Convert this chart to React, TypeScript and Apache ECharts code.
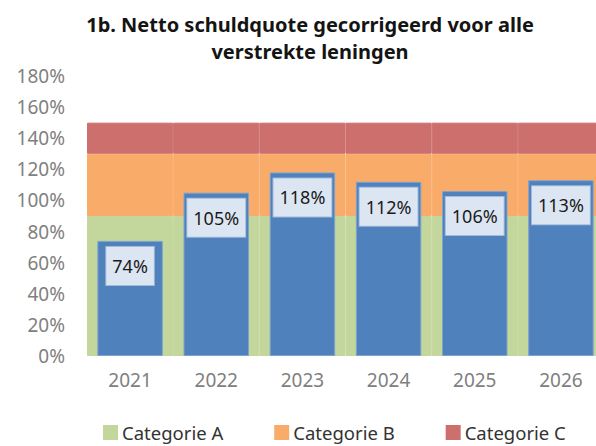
import React, { useEffect, useRef } from "react";
import * as echarts from "echarts";

const years = ["2021", "2022", "2023", "2024", "2025", "2026"];
const schuldquote = [74, 105, 118, 112, 106, 113];
const categorieA = [90, 90, 90, 90, 90, 90];
const categorieB = [40, 40, 40, 40, 40, 40];
const categorieC = [20, 20, 20, 20, 20, 20];
const titleText = "1b. Netto schuldquote gecorrigeerd voor alle\nverstrekte leningen";

export default function App() {
  const ref = useRef<HTMLDivElement>(null);
  useEffect(() => {
    if (!ref.current) return;
    const chart = echarts.init(ref.current, undefined, { renderer: "svg" });
    const font = "'Noto Sans', sans-serif";
    const bgBar = (color: string) => ({ color, borderColor: color, borderWidth: 1 });
    chart.setOption({
      animation: false,
      textStyle: { fontFamily: font },
      title: {
        text: titleText,
        left: 310,
        top: 11,
        padding: 0,
        textAlign: "center",
        textStyle: { fontSize: 20, fontWeight: "bold", color: "#141414", lineHeight: 27, fontFamily: font },
      },
      legend: {
        top: 423,
        left: 103,
        padding: 0,
        icon: "rect",
        itemWidth: 13,
        itemHeight: 13,
        itemGap: 51,
        data: ["Categorie A", "Categorie B", "Categorie C"],
        textStyle: { fontSize: 18.5, lineHeight: 18, color: "#333", fontFamily: font },
        selectedMode: false,
      },
      grid: { left: 87, top: 76, width: 517, height: 280, containLabel: false, outerBoundsMode: "none" },
      xAxis: [
        {
          type: "category",
          data: years,
          axisLine: { show: false },
          axisTick: { show: false },
          axisLabel: { color: "#808080", fontSize: 19, margin: 14, fontFamily: font },
        },
        {
          type: "category",
          data: years,
          show: false,
        },
      ],
      yAxis: {
        type: "value",
        min: 0,
        max: 180,
        interval: 20,
        axisLine: { show: false },
        axisTick: { show: false },
        splitLine: { show: false },
        axisLabel: { formatter: "{value}%", color: "#808080", fontSize: 19, margin: 22, fontFamily: font },
      },
      series: [
        {
          name: "Categorie A",
          type: "bar",
          stack: "bg",
          xAxisIndex: 0,
          barCategoryGap: 0,
          data: categorieA,
          itemStyle: bgBar("#C3D69B"),
          z: 1,
        },
        {
          name: "Categorie B",
          type: "bar",
          stack: "bg",
          xAxisIndex: 0,
          data: categorieB,
          itemStyle: bgBar("#F9AB6A"),
          z: 1,
        },
        {
          name: "Categorie C",
          type: "bar",
          stack: "bg",
          xAxisIndex: 0,
          data: categorieC,
          itemStyle: bgBar("#CD6F6D"),
          z: 1,
        },
        {
          name: "Schuldquote",
          type: "bar",
          xAxisIndex: 1,
          barCategoryGap: "24%",
          data: schuldquote,
          z: 5,
          itemStyle: { color: "#4F81BD", borderColor: "#7FA3CF", borderWidth: 1 },
          label: {
            show: true,
            position: "insideTop",
            distance: 6,
            formatter: "{c}%",
            fontSize: 18,
            lineHeight: 20,
            color: "#1a1a1a",
            fontFamily: font,
            backgroundColor: "#DCE6F2",
            borderColor: "#A3BAD9",
            borderWidth: 1,
            padding: [9, 6, 9, 6],
          },
        },
      ],
    });
    return () => chart.dispose();
  }, []);
  return (
    <div
      ref={ref}
      style={{ position: "fixed", left: 0, top: 0, width: 596, height: 446, background: "#fff" }}
    />
  );
}
